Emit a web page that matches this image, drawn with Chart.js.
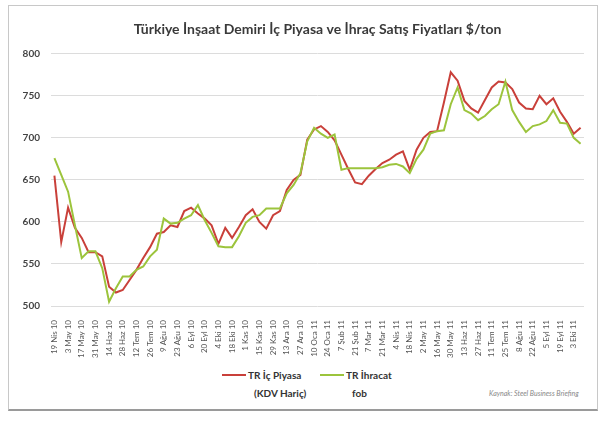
<!DOCTYPE html>
<html>
<head>
<meta charset="utf-8">
<title>Türkiye İnşaat Demiri İç Piyasa ve İhraç Satış Fiyatları</title>
<script src="https://cdn.jsdelivr.net/npm/chart.js@4.4.1/dist/chart.umd.min.js"></script>
<style>
body {
	margin: 0;
	background: #fff;
	font-family: Lato, sans-serif;
	overflow: hidden;
}

.frame {
	position: absolute;
	left: 8px;
	top: 5px;
	width: 588px;
	height: 403px;
	border: 1px solid #c8c8c8;
	border-bottom: 2px solid #9a9a9a;
	background: #fff;
}

.chart-container {
	position: absolute;
	left: 0;
	top: 0;
	width: 588px;
	height: 354px;
}

.legend-item {
	position: absolute;
	top: 360px;
	font-weight: bold;
	font-size: 10px;
	color: #333;
	line-height: 18px;
}

.legend-item .swatch {
	position: absolute;
	left: 0;
	top: 8px;
	width: 24px;
	height: 2px;
}

.legend-item .text {
	margin-left: 26px;
}

.source {
	position: absolute;
	left: 480px;
	top: 383px;
	font-size: 7px;
	font-style: italic;
	color: #888;
}
</style>
</head>
<body>
	<div class="frame">
		<div class="chart-container">
			<canvas id="chart"></canvas>
		</div>
		<div id="legend"></div>
		<div class="source">Kaynak: Steel Business Briefing</div>
	</div>
	<script>
		const titleText = 'Türkiye İnşaat Demiri İç Piyasa ve İhraç Satış Fiyatları $/ton';

		const weeks = [
			'19 Nis 10', '26 Nis 10', '3 May 10', '10 May 10', '17 May 10', '24 May 10', '31 May 10',
			'7 Haz 10', '14 Haz 10', '21 Haz 10', '28 Haz 10', '5 Tem 10', '12 Tem 10', '19 Tem 10',
			'26 Tem 10', '2 Ağu 10', '9 Ağu 10', '16 Ağu 10', '23 Ağu 10', '30 Ağu 10', '6 Eyl 10',
			'13 Eyl 10', '20 Eyl 10', '27 Eyl 10', '4 Eki 10', '11 Eki 10', '18 Eki 10', '25 Eki 10',
			'1 Kas 10', '8 Kas 10', '15 Kas 10', '22 Kas 10', '29 Kas 10', '6 Ara 10', '13 Ara 10',
			'20 Ara 10', '27 Ara 10', '3 Oca 11', '10 Oca 11', '17 Oca 11', '24 Oca 11', '31 Oca 11',
			'7 Şub 11', '14 Şub 11', '21 Şub 11', '28 Şub 11', '7 Mar 11', '14 Mar 11', '21 Mar 11',
			'28 Mar 11', '4 Nis 11', '11 Nis 11', '18 Nis 11', '25 Nis 11', '2 May 11', '9 May 11',
			'16 May 11', '23 May 11', '30 May 11', '6 Haz 11', '13 Haz 11', '20 Haz 11', '27 Haz 11',
			'4 Tem 11', '11 Tem 11', '18 Tem 11', '25 Tem 11', '1 Ağu 11', '8 Ağu 11', '15 Ağu 11',
			'22 Ağu 11', '29 Ağu 11', '5 Eyl 11', '12 Eyl 11', '19 Eyl 11', '26 Eyl 11', '3 Eki 11',
			'10 Eki 11'
		];

		// TR İç Piyasa (KDV Hariç)
		const domestic = [
			655, 576, 617, 593, 581, 564, 564, 559, 523, 516,
			519, 531, 543, 557, 570, 586, 588, 596, 594, 613,
			617, 610, 604, 596, 574, 593, 581, 594, 608, 615,
			600, 592, 608, 613, 638, 650, 656, 698, 710, 714,
			707, 697, 680, 663, 647, 645, 655, 663, 670, 674,
			680, 684, 662, 686, 700, 707, 708, 742, 778, 768,
			744, 735, 730, 745, 760, 767, 766, 758, 742, 735,
			734, 750, 740, 747, 731, 719, 705, 712
		];

		// TR İhracat fob
		const exportFob = [
			676, 656, 636, 596, 557, 565, 565, 545, 505, 521,
			535, 535, 543, 547, 559, 567, 604, 598, 599, 604,
			608, 620, 602, 587, 571, 570, 570, 583, 599, 606,
			608, 616, 616, 616, 634, 644, 658, 696, 712, 705,
			700, 704, 662, 664, 664, 664, 664, 664, 665, 668,
			669, 666, 658, 675, 686, 705, 708, 709, 740, 760,
			733, 729, 721, 726, 734, 740, 767, 733, 719, 707,
			714, 716, 720, 733, 718, 717, 700, 693
		];

		const yTicks = [500, 550, 600, 650, 700, 750, 800];

		const series = [
			{ label: ['TR İç Piyasa', '(KDV Hariç)'], data: domestic, color: '#c9403a', left: 213 },
			{ label: ['TR İhracat', 'fob'], data: exportFob, color: '#9cc43c', left: 311 }
		];

		const legend = document.getElementById('legend');
		series.forEach(s => {
			const item = document.createElement('div');
			item.className = 'legend-item';
			item.style.left = s.left + 'px';
			item.innerHTML = '<div class="swatch" style="background:' + s.color + '"></div>' +
				'<div class="text">' + s.label[0] + '</div>' +
				'<div class="text" style="margin-left:32px">' + s.label[1] + '</div>';
			legend.append(item);
		});

		const ctx = document.getElementById('chart').getContext('2d');
		const myChart = new Chart(ctx, {
			type: 'line',
			data: {
				labels: weeks,
				datasets: series.map(s => ({
					label: s.label.join(' '),
					data: s.data,
					borderColor: s.color,
					backgroundColor: s.color,
					borderWidth: 2,
					pointRadius: 0,
					tension: 0,
					fill: false
				})).reverse()
			},
			options: {
				responsive: true,
				maintainAspectRatio: false,
				animation: false,
				layout: {
					padding: { left: 0, right: 13, top: 0, bottom: 2 }
				},
				plugins: {
					legend: { display: false },
					tooltip: { enabled: false },
					title: {
						display: true,
						fullSize: false, // centre over the plot area, not the canvas
						text: titleText,
						color: '#3a3a3a',
						font: { family: 'Lato', size: 14, weight: 'bold' },
						padding: { top: 15, bottom: 16 }
					}
				},
				scales: {
					x: {
						offset: true,
						grid: { display: false },
						border: { display: false },
						afterFit: scale => { scale.height = 52; },
						ticks: {
							autoSkip: false,
							minRotation: 90,
							maxRotation: 90,
							padding: 6,
							color: '#555',
							font: { family: 'Lato', size: 8 },
							callback: (value, i) => (i % 2 === 0 ? weeks[i] : null)
						}
					},
					y: {
						min: 500,
						max: 800,
						afterFit: scale => { scale.width = 42; },
						afterBuildTicks: scale => {
							scale.ticks = yTicks.map(v => ({ value: v }));
						},
						grid: { color: '#dcdcdc', drawTicks: false },
						border: { display: false },
						ticks: {
							padding: 11,
							color: '#444',
							font: { family: 'Lato', size: 10, weight: 'bold' }
						}
					}
				}
			}
		});
	</script>
</body>
</html>
